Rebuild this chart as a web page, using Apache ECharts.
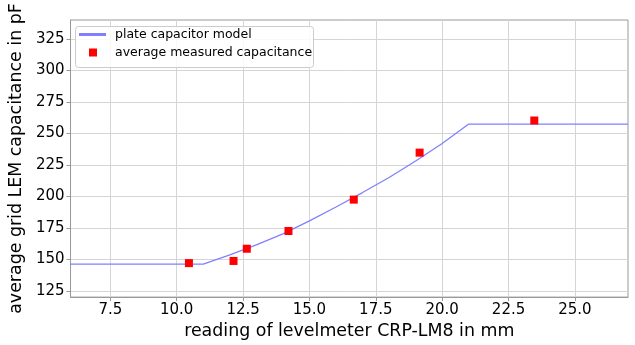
<!DOCTYPE html>
<html>
<head>
<meta charset="utf-8">
<script src="https://cdn.jsdelivr.net/npm/echarts@6/dist/echarts.min.js"></script>
<style>
html,body{margin:0;padding:0;background:#fff;}
#chart{width:635px;height:345px;}
</style>
</head>
<body>
<div id="chart"></div>
<script>
// measured points (levelmeter reading in mm, capacitance in pF)
var measuredX = [10.46, 12.14, 12.64, 14.21, 16.67, 19.15, 23.47];
var measuredY = [147.0, 148.7, 158.4, 172.5, 197.4, 234.7, 260.2];
// plate capacitor model curve
var modelX = [6, 11, 12, 13, 14, 15, 16, 17, 18, 19, 20, 21, 27];
var modelY = [146.2, 146.2, 153.5, 161.5, 170.2, 180.5, 191.5, 203.0, 215.0, 228.0, 242.0, 257.4, 257.4];
var xTicks = [7.5, 10, 12.5, 15, 17.5, 20, 22.5, 25];
var yTicks = [125, 150, 175, 200, 225, 250, 275, 300, 325];
var seriesNames = ['plate capacitor model', 'average measured capacitance'];
var axisNames = ['reading of levelmeter CRP-LM8 in mm', 'average grid LEM capacitance in pF'];

var modelData = modelX.map(function (x, i) { return [x, modelY[i]]; });
var measData = measuredX.map(function (x, i) { return [x, measuredY[i]]; });

var FONT = 'DejaVu Sans';
var TXT = '#000000';
var chart = echarts.init(document.getElementById('chart'), null, {renderer: 'canvas'});
chart.setOption({
  animation: false,
  backgroundColor: '#ffffff',
  textStyle: {fontFamily: FONT},
  grid: {left: 69, right: 7, top: 20, bottom: 38, show: true, borderColor: '#999999', borderWidth: 1, containLabel: false},
  xAxis: {
    type: 'value', min: 6, max: 27,
    name: axisNames[0], nameLocation: 'middle', nameGap: 20,
    nameTextStyle: {fontFamily: FONT, fontSize: 17.4, color: TXT},
    axisLine: {show: true, onZero: false, lineStyle: {color: '#999999'}},
    axisTick: {show: true, length: 4, customValues: xTicks, lineStyle: {color: '#999999'}},
    axisLabel: {customValues: xTicks, margin: 6, fontFamily: FONT, fontSize: 15, color: TXT,
      formatter: function (v) { return v.toFixed(1); }},
    splitLine: {show: true, lineStyle: {color: '#d5d5d5', width: 1}}
  },
  yAxis: {
    type: 'value', min: 120, max: 340,
    name: axisNames[1], nameLocation: 'middle', nameGap: 36,
    nameTextStyle: {fontFamily: FONT, fontSize: 17.4, color: TXT},
    axisLine: {show: true, onZero: false, lineStyle: {color: '#999999'}},
    axisTick: {show: true, length: 4, customValues: yTicks, lineStyle: {color: '#999999'}},
    axisLabel: {customValues: yTicks, margin: 6, fontFamily: FONT, fontSize: 15, color: TXT,
      formatter: function (v) { return String(Math.round(v)); }},
    splitLine: {show: true, lineStyle: {color: '#d5d5d5', width: 1}}
  },
  graphic: [{
    type: 'rect', left: 75, top: 26, z: 3,
    shape: {width: 238, height: 41, r: 3},
    style: {fill: 'rgba(255,255,255,0.85)', stroke: '#cccccc', lineWidth: 1}
  }],
  legend: [{
    data: [seriesNames[0]], left: 79, top: 28, padding: 0, icon: 'rect',
    itemWidth: 27, itemHeight: 3, z: 5,
    textStyle: {fontFamily: FONT, fontSize: 12.5, color: TXT, padding: [0, 0, 0, 4]}
  }, {
    data: [seriesNames[1]], left: 89, top: 46, padding: 0, icon: 'rect',
    itemWidth: 8, itemHeight: 8, z: 5,
    textStyle: {fontFamily: FONT, fontSize: 12.5, color: TXT, padding: [0, 0, 0, 13]}
  }],
  series: [{
    name: seriesNames[0], type: 'line', data: modelData, color: '#8080ff',
    showSymbol: false, symbol: 'none', smooth: false,
    lineStyle: {color: '#8080ff', width: 1.3}, z: 2
  }, {
    name: seriesNames[1], type: 'scatter', data: measData, color: '#ff0000',
    symbol: 'rect', symbolSize: 8, itemStyle: {color: '#ff0000', opacity: 1}, z: 3
  }]
});
</script>
</body>
</html>
